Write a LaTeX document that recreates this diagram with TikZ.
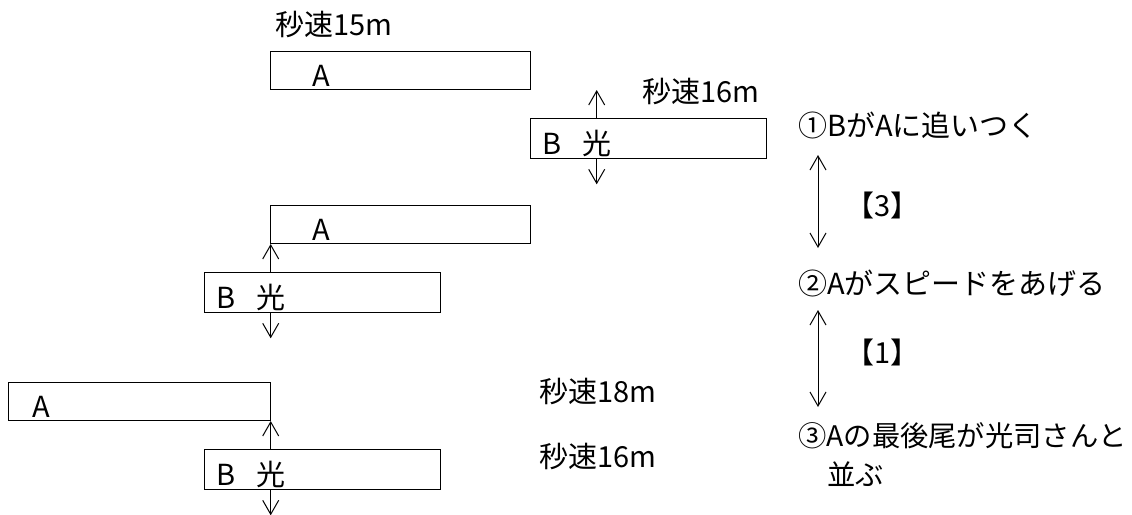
\documentclass[tikz,border=0pt]{standalone}
\usepackage{fontspec}
\newfontfamily\jpfont{Noto Sans CJK JP}
\usetikzlibrary{arrows.meta, positioning}

\begin{document}
\begin{tikzpicture}[
    x=1pt, y=-1pt,
    >={Straight Barb[length=14pt, width=16pt]},
    every node/.style={font=\jpfont\fontsize{29pt}{39pt}\selectfont, inner sep=0pt},
    abox/.style={rectangle, draw, line width=1.3pt, minimum width=260pt, minimum height=38pt, anchor=north west},
    bbox/.style={abox, minimum width=236pt, minimum height=40pt},
    inlbl/.style={yshift=-5pt},
    vel/.style={anchor=west},
    tick/.style={->, line width=1pt}
  ]
  \useasboundingbox (0,0) rectangle (1132,514);

  % 1: B catches up with A
  \node[abox] (a1) at (270,51) {};
  \node[inlbl, right=42pt of a1.west] (a1t) {A};
  \node[bbox] (b1) at (530,118) {};
  \node[inlbl, right=12pt of b1.west] (b1t) {B};
  \node[inlbl, right=52pt of b1.west] (b1k) {光};
  \node[vel] (v1) at (275,24) {秒速15m};
  \node[vel] (v2) at (642,91) {秒速16m};

  % 2: A speeds up
  \node[abox] (a2) at (270,205) {};
  \node[inlbl, right=42pt of a2.west] (a2t) {A};
  \node[bbox] (b2) at (204,272) {};
  \node[inlbl, right=12pt of b2.west] (b2t) {B};
  \node[inlbl, right=52pt of b2.west] (b2k) {光};

  % 3: tail of A beside B
  \node[abox, minimum width=262pt] (a3) at (8,382) {};
  \node[inlbl, right=24pt of a3.west] (a3t) {A};
  \node[bbox] (b3) at (204,449) {};
  \node[inlbl, right=12pt of b3.west] (b3t) {B};
  \node[inlbl, right=52pt of b3.west] (b3k) {光};
  \node[vel] (v3) at (539,391) {秒速18m};
  \node[vel] (v4) at (539,456) {秒速16m};

  % marks at 光
  \foreach \b in {1,2,3} {
    \coordinate (b\b up) at ([yshift=28pt]b\b.north -| b\b k);
    \coordinate (b\b dn) at ([yshift=-25pt]b\b.south -| b\b k);
    \draw[tick] (b\b.north -| b\b k) -- (b\b up);
    \draw[tick] (b\b.south -| b\b k) -- (b\b dn);
  }

  % steps on the right
  \node[vel] (s1) at (798,125) {①BがAに追いつく};
  \node[vel] (s2) at (798,283) {②Aがスピードをあげる};
  \node[vel, align=left, font=\jpfont\fontsize{28.3pt}{39pt}\selectfont] (s3) at (798,455) {③Aの最後尾が光司さんと\\\hspace*{29pt}並ぶ};

  \coordinate (r1a) at (818,155);
  \coordinate (r1b) at (818,248);
  \coordinate (r2a) at (818,310);
  \coordinate (r2b) at (818,407);
  \draw[tick, <->] (r1a) -- (r1b);
  \draw[tick, <->] (r2a) -- (r2b);
  \node[vel] (g1) at (845,205) {【3】};
  \node[vel] (g2) at (845,352) {【1】};

\end{tikzpicture}
\end{document}
